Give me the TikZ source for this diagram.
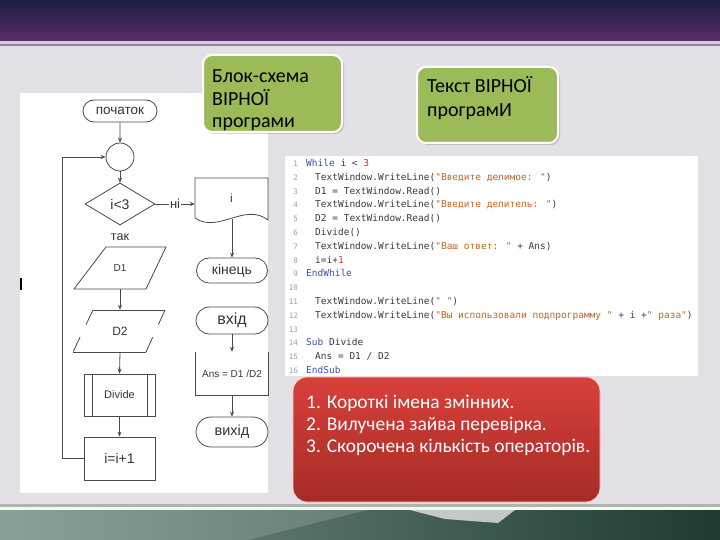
\documentclass[tikz,border=0pt]{standalone}
\usepackage{fontspec}
\setmainfont{Carlito}
\newfontfamily\flowfont{Liberation Sans}
\newfontfamily\codefont{DejaVu Sans Mono}
\usetikzlibrary{shapes.geometric,shapes.misc,arrows.meta,calc}
\definecolor{topA}{HTML}{1C1D40}
\definecolor{topB}{HTML}{5B2C6C}
\definecolor{lilac}{HTML}{DCCBE5}
\definecolor{bodybg}{HTML}{E3E1E6}
\definecolor{botL}{HTML}{7E958C}
\definecolor{botR}{HTML}{1E3A32}
\definecolor{gbox}{HTML}{9BBB59}
\definecolor{redA}{HTML}{D9403A}
\definecolor{redB}{HTML}{A52B27}
\definecolor{flline}{HTML}{4A4A4A}
\definecolor{fltext}{HTML}{353535}
\definecolor{kw}{HTML}{3C50B4}
\definecolor{str}{HTML}{C8641E}
\definecolor{num}{HTML}{D23C28}
\definecolor{ctxt}{HTML}{3A3A44}
\definecolor{lnum}{HTML}{8AA6A6}
\begin{document}
\begin{tikzpicture}[x=1pt,y=-1pt,
  fl/.style={draw=flline, line width=0.8pt},
  arr/.style={fl, -{Stealth[length=5pt,width=4pt]}},
  ftxt/.style={text=fltext, inner sep=0pt},
  term/.style={rounded rectangle, fl, minimum width=#1, inner sep=0pt, text=fltext},
  ghost/.style={inner sep=0pt, text=fltext},
  greenbox/.style={fill=gbox, draw=white, line width=2pt, rounded corners=9pt},
  gtext/.style={anchor=base west, inner sep=0pt, font=\fontsize{20}{22}\selectfont, text=black},
  rtext/.style={anchor=base west, inner sep=0pt, font=\fontsize{19.4}{22}\selectfont, text=white},
  cline/.style={anchor=base west, inner sep=0pt, font=\codefont\fontsize{9.5}{11}\selectfont, text=ctxt},
  lnumst/.style={anchor=base east, inner sep=0pt, font=\codefont\fontsize{7.5}{9}\selectfont, text=lnum}
]
\useasboundingbox (0,0) rectangle (720,540);
% background
\fill[bodybg] (0,0) rectangle (720,540);
\shade[top color=topA, bottom color=topB] (0,0) rectangle (720,41);
\fill[lilac] (0,41) rectangle (720,44);
\fill[black!45] (0,44) rectangle (720,46);
\fill[black!30] (0,504) rectangle (720,507);
\fill[white!92!green] (0,507) rectangle (720,510);
\shade[left color=botL, right color=botR] (0,510) rectangle (720,540);
\shade[left color=botL!90!white, right color=botL!75!botR] (0,510) -- (367,510) -- (248,540) -- (0,540) -- cycle;
\fill[white!80!gray, opacity=0.8] (410,510) -- (515,510) -- (498,523) -- (445,519) -- cycle;

% flowchart panel
\fill[white] (20,93) rectangle (268,493);
\draw[black, line width=1.2pt] (21,278) -- (21,290);

% flowchart
\node[term=74pt, minimum height=22pt, font=\flowfont\fontsize{13.5}{13.5}\selectfont] (start) at (120,111) {початок};
\node[circle, fl, minimum size=28pt, inner sep=0pt] (conn) at (120,157) {};
\node[diamond, fl, minimum width=70pt, minimum height=42pt, inner sep=0pt, text=fltext, font=\flowfont\fontsize{14}{14}\selectfont] (dec) at (120,204) {і<3};
\node[ftxt, font=\flowfont\fontsize{12.5}{12.5}\selectfont] (yes) at (120,237) {так};

\node[ghost, minimum width=60pt, minimum height=42pt, font=\flowfont\fontsize{10}{10}\selectfont] (d1) at (120,268) {D1};
\draw[fl] (106,247) -- (166,247) -- (146,289) -- (74,289) -- cycle;

\node[ghost, minimum width=60pt, minimum height=42pt, font=\flowfont\fontsize{12}{12}\selectfont] (d2) at (120,331) {D2};
\draw[fl] (93,310) -- (165,310);
\draw[fl] (73,352) -- (146,352);
\draw[fl, dash pattern=on 16pt off 14pt] (93,310) -- (73,352);
\draw[fl, dash pattern=on 16pt off 14pt] (165,310) -- (146,352);

\node[rectangle, fl, minimum width=71pt, minimum height=42pt, ftxt, font=\flowfont\fontsize{11}{11}\selectfont] (div) at (119.5,395) {Divide};
\draw[fl] ($(div.north west)+(9,0)$) -- ($(div.south west)+(9,0)$);
\draw[fl] ($(div.north east)+(-8,0)$) -- ($(div.south east)+(-8,0)$);

\node[rectangle, fl, minimum width=71pt, minimum height=43pt, ftxt, font=\flowfont\fontsize{14}{14}\selectfont] (inc) at (119.5,458.5) {i=i+1};

\draw[arr] (start) -- (conn);
\draw[arr] (conn) -- (dec);
\draw[arr] (d1.south) -- (d2.north);
\draw[arr] (d2.south) -- (div.north);
\draw[arr] (div.south) -- (inc.north);
\coordinate (lp) at (62,458.5);
\draw[arr] (inc.west) -- (lp) |- (conn.west);

% right column
\node[ghost, minimum width=73pt, minimum height=40pt, font=\flowfont\fontsize{12}{12}\selectfont] (doc) at (231.5,198) {i};
\draw[fl] (195,218) -- (195,178) -- (268,178) -- (268,220) .. controls (245,202) and (218,234) .. (195,218);
\draw[arr] (dec.east) -- node[fill=white, inner sep=1pt, text=fltext, font=\flowfont\fontsize{13}{13}\selectfont] (nolbl) {ні} (dec.east -| doc.west);
\node[term=71pt, minimum height=25pt, font=\flowfont\fontsize{14}{14}\selectfont] (fin) at (232,270.5) {кінець};
\coordinate (docb) at (232,219.5);
\draw[arr] (docb) -- (fin.north);

\node[term=72pt, minimum height=27pt, font=\flowfont\fontsize{16}{16}\selectfont] (vin) at (232,320.5) {вхід};
\node[ghost, minimum width=72pt, minimum height=43pt, font=\flowfont\fontsize{10}{10}\selectfont] (ans) at (232,373.5) {Ans = D1 /D2};
\draw[fl] (ans.north west) -- (ans.south west) -- (ans.south east) -- (ans.north east);
\node[term=72pt, minimum height=30pt, font=\flowfont\fontsize{14.5}{14.5}\selectfont] (vout) at (232,432) {вихід};
\draw[arr] (vin.south) -- (ans.north);
\draw[arr] (ans.south) -- (vout.north);

% green boxes
\fill[black, opacity=0.15, rounded corners=9pt] (205,57) rectangle (344,134);
\draw[greenbox] (203,55) rectangle (342,132);
\node[gtext] (g1a) at (212,83) {Блок-схема};
\node[gtext] (g1b) at (212,106) {ВІРНОЇ};
\node[gtext] (g1c) at (212,128) {програми};

\fill[black, opacity=0.15, rounded corners=9pt] (419,69) rectangle (560,145);
\draw[greenbox] (417,67) rectangle (558,143);
\node[gtext] (g2a) at (427,93) {Текст ВІРНОЇ};
\node[gtext] (g2b) at (427,117) {програмИ};

% code panel
\fill[white] (285,156) rectangle (698,376);
\foreach \k in {1,...,16} {
  \node[lnumst] (n\k) at (298,{166.5+13.8*(\k-1)}) {\k};
}
\node[cline] (c1) at (306,166.5) {\textcolor{kw}{While} i < \textcolor{num}{3}};
\node[cline] (c2) at (315,180.3) {TextWindow.WriteLine(\textcolor{str}{"Введите делимое: "})};
\node[cline] (c3) at (315,194.1) {D1 = TextWindow.Read()};
\node[cline] (c4) at (315,207.9) {TextWindow.WriteLine(\textcolor{str}{"Введите делитель: "})};
\node[cline] (c5) at (315,221.7) {D2 = TextWindow.Read()};
\node[cline] (c6) at (315,235.5) {Divide()};
\node[cline] (c7) at (315,249.3) {TextWindow.WriteLine(\textcolor{str}{"Ваш ответ: "} + Ans)};
\node[cline] (c8) at (315,263.1) {i=i+\textcolor{num}{1}};
\node[cline] (c9) at (306,276.9) {\textcolor{kw}{EndWhile}};
\node[cline] (c11) at (315,304.5) {TextWindow.WriteLine(\textcolor{str}{" "})};
\node[cline] (c12) at (315,318.3) {TextWindow.WriteLine(\textcolor{str}{"Вы использовали подпрограмму "} + i +\textcolor{str}{" раза"})};
\node[cline] (c14) at (306,345.9) {\textcolor{kw}{Sub} Divide};
\node[cline] (c15) at (315,359.7) {Ans = D1 / D2};
\node[cline] (c16) at (306,373.5) {\textcolor{kw}{EndSub}};

% red box
\shade[top color=redA, bottom color=redB, rounded corners=14pt, draw=red!20!white, line width=0.8pt] (293,377) rectangle (600,502);
\node[rtext] (r1) at (306,408) {1. Короткі імена змінних.};
\node[rtext] (r2) at (306,430) {2. Вилучена зайва перевірка.};
\node[rtext] (r3) at (306,452) {3. Скорочена кількість операторів.};
\end{tikzpicture}
\end{document}
